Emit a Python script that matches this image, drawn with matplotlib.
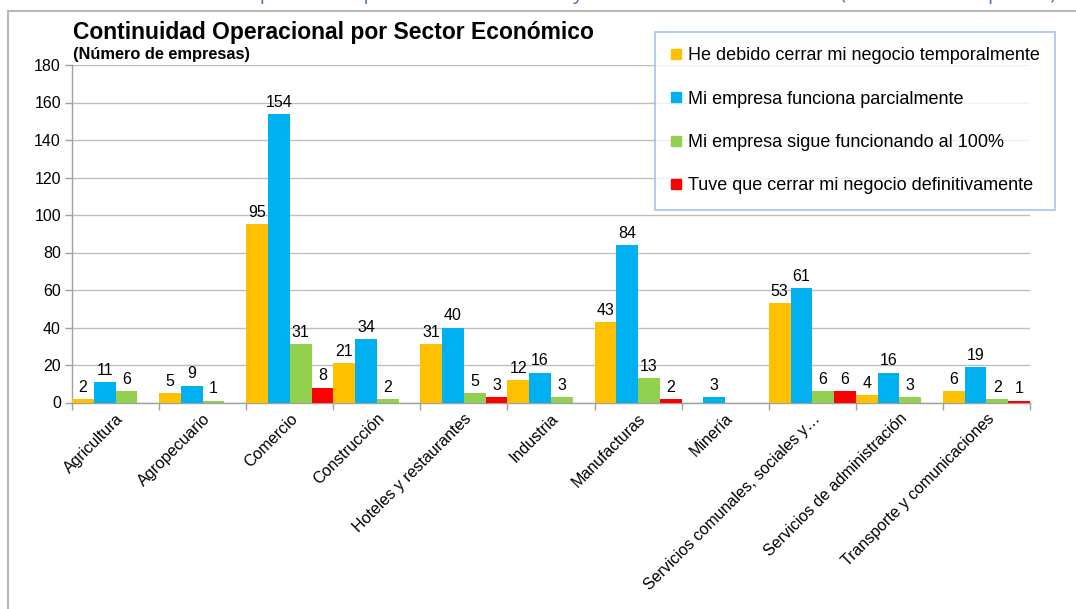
import numpy as np
import matplotlib
matplotlib.use("Agg")
import matplotlib.pyplot as plt
from matplotlib.lines import Line2D

plt.rcParams['font.family'] = ['Liberation Sans', 'DejaVu Sans']

categories = ["Agricultura", "Agropecuario", "Comercio", "Construcción",
              "Hoteles y restaurantes", "Industria", "Manufacturas", "Minería",
              "Servicios comunales, sociales y…", "Servicios de administración",
              "Transporte y comunicaciones"]
series_names = ["He debido cerrar mi negocio temporalmente",
                "Mi empresa funciona parcialmente",
                "Mi empresa sigue funcionando al 100%",
                "Tuve que cerrar mi negocio definitivamente"]
temporal = [2, 5, 95, 21, 31, 12, 43, 0, 53, 4, 6]
parcial = [11, 9, 154, 34, 40, 16, 84, 3, 61, 16, 19]
total_100 = [6, 1, 31, 2, 5, 3, 13, 0, 6, 3, 2]
definitivo = [0, 0, 8, 0, 3, 0, 2, 0, 6, 0, 1]
series = [temporal, parcial, total_100, definitivo]
colors = ["#FFC000", "#00B0F0", "#92D050", "#FF0000"]
yticks = [0, 20, 40, 60, 80, 100, 120, 140, 160, 180]

W, H = 1076, 609
fig = plt.figure(figsize=(W / 100, H / 100), dpi=100)

# outer chart frame
fig.add_artist(Line2D([8 / W, 1.0], [1 - 11 / H, 1 - 11 / H], transform=fig.transFigure,
                      color="#B8B8B8", lw=1.5))
fig.add_artist(Line2D([8 / W, 8 / W], [1 - 11 / H, 0.0], transform=fig.transFigure,
                      color="#B8B8B8", lw=1.5))

# caption of the document, mostly cut off by the top edge
fig.text(10 / W, 1 + 1.0 / H, "Gráfico 9.", color="#7F7F7F", fontsize=15,
         ha="left", va="baseline", family=["Open Sans", "DejaVu Sans"])
fig.text(127 / W, 1 + 1.0 / H,
         "Continuidad operacional por sector económico y estado de funcionamiento (Número de empresas)",
         color="#4A76B8", fontsize=14.5, ha="left", va="baseline",
         family=["Open Sans", "DejaVu Sans"])

ax = fig.add_axes([72 / W, 1 - 402.5 / H, (1030 - 72) / W, (402.5 - 65) / H])

x = np.arange(len(categories))
bw = 0.25
offsets = [-1.5 * bw, -0.5 * bw, 0.5 * bw, 1.5 * bw]
for vals, col, off, name in zip(series, colors, offsets, series_names):
    v = np.array(vals, dtype=float)
    ax.bar(x + off, v, width=bw, color=col, label=name, zorder=3)
    for xi, vi in zip(x + off, v):
        if vi > 0:
            ax.annotate(f"{int(vi)}", (xi, vi), xytext=(0, 3), textcoords="offset points",
                        ha="center", va="bottom", fontsize=11.5, color="#000000")

ax.set_xlim(-0.5, len(categories) - 0.5)
ax.set_ylim(0, 180)
ax.set_yticks(yticks)
ax.set_yticklabels([str(t) for t in yticks], fontsize=11.5)
ax.yaxis.grid(True, color="#BEBEBE", lw=1, zorder=0)
ax.set_axisbelow(True)

ax.set_xticks(x)
ax.set_xticklabels(categories, rotation=45, ha="right", va="top",
                   rotation_mode="anchor", fontsize=11.5)
ax.set_xticks(np.arange(len(categories) + 1) - 0.5, minor=True)
ax.tick_params(axis="x", which="major", length=0, pad=6)
ax.tick_params(axis="x", which="minor", length=5, color="#A0A0A0", width=1)
ax.tick_params(axis="y", length=5, color="#A0A0A0", width=1, pad=3)

for s in ["top", "right"]:
    ax.spines[s].set_visible(False)
ax.spines["left"].set_color("#A0A0A0")
ax.spines["bottom"].set_color("#A0A0A0")
ax.spines["left"].set_linewidth(1)
ax.spines["bottom"].set_linewidth(1)

fig.text(73 / W, 1 - 32 / H, "Continuidad Operacional por Sector Económico",
         fontsize=16.5, fontweight="bold", ha="left", va="center")
fig.text(73 / W, 1 - 54 / H, "(Número de empresas)",
         fontsize=11.8, fontweight="bold", ha="left", va="center")

handles = [Line2D([0], [0], marker="s", color="none", markerfacecolor=c,
                  markeredgecolor=c, markersize=7) for c in colors]
leg = fig.legend(handles, series_names, loc="upper left",
                 bbox_to_anchor=(655 / W, 1 - 32 / H), bbox_transform=fig.transFigure,
                 fontsize=13, frameon=True, fancybox=False, borderpad=0.85,
                 labelspacing=1.46, handlelength=0.6, handletextpad=0.35,
                 borderaxespad=0)
leg.get_frame().set_edgecolor("#8EB4E3")
leg.get_frame().set_linewidth(1.2)

fig.savefig("out.png", dpi=100)
